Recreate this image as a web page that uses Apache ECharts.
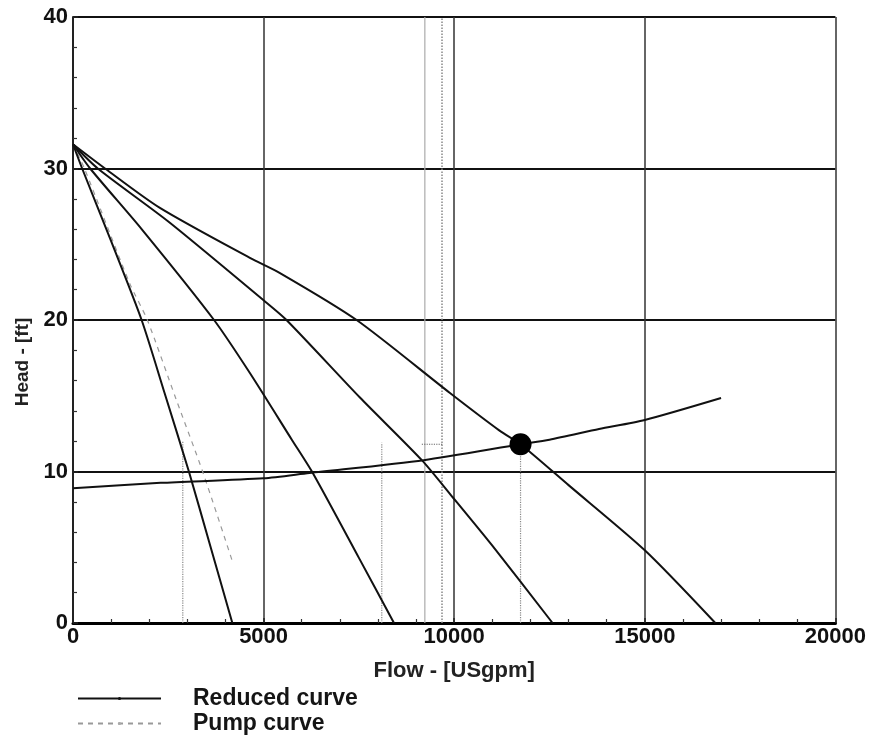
<!DOCTYPE html>
<html>
<head>
<meta charset="UTF-8">
<title>Head / Flow</title>
<style>
  html, body { margin: 0; padding: 0; background: #fff; }
  #chart { width: 869px; height: 745px; }
</style>
</head>
<body>
<div id="chart"></div>
<script src="https://cdn.jsdelivr.net/npm/echarts@6/dist/echarts.min.js"></script>
<script>
// reduced curves (flow in USgpm, head in ft)
var flow1 = [0, 240, 1000, 1800, 2400, 3040, 3600, 4180];
var head1 = [31.6, 30, 25.2, 20, 15.2, 10, 5.1, 0];

var flow2 = [0, 450, 1800, 3700, 4640, 5740, 6290, 7500, 8420];
var head2 = [31.6, 30, 26, 20, 16.5, 12.1, 9.9, 4.3, 0];

var flow3 = [0, 650, 2500, 5000, 5600, 7520, 9150, 9960, 11000, 12580];
var head3 = [31.6, 30, 26.5, 21.3, 20, 14.9, 10.75, 8.3, 5.1, 0];

var flow4 = [0, 840, 2280, 4640, 5430, 7440, 9880, 11190, 11740, 13000, 15000, 16850];
var head4 = [31.6, 30, 27.4, 24.1, 23.1, 20, 15.2, 12.7, 11.8, 9.1, 4.8, 0];

// pump curve (dashed)
var flowPump = [0, 300, 1490, 1950, 2700, 3400, 4190];
var headPump = [31.6, 30, 22.4, 20, 14.8, 10, 4.0];

// system curve
var flowSys = [0, 2300, 5000, 6200, 9200, 11740, 12500, 13800, 15000, 17000];
var headSys = [8.9, 9.25, 9.55, 9.9, 10.75, 11.8, 12.1, 12.8, 13.4, 14.85];

// operating point
var opFlow = [11740];
var opHead = [11.8];

// dotted drop lines
var dropFlow = [2880, 8100, 11740];
var dropHead = [12, 11.9, 11.8];
var dashFlow = [9150, 9700];
var dashHead = [11.8, 11.8];

// scan lines near 10000
var scanFlow = [9230, 9680];
var scanHead = [0, 40];

function pts(xs, ys) {
  return xs.map(function (x, i) { return [x, ys[i]]; });
}

var font = '"Liberation Sans", Arial, sans-serif';
var series = [];

[[flow1, head1], [flow2, head2], [flow3, head3], [flow4, head4]].forEach(function (c) {
  series.push({
    name: 'Reduced curve',
    type: 'line',
    symbol: 'none',
    smooth: 0.25,
    itemStyle: { color: '#111' },
    lineStyle: { color: '#111', width: 2 },
    data: pts(c[0], c[1]),
    z: 4
  });
});

series.push({
  name: 'Pump curve',
  type: 'line',
  symbol: 'none',
  smooth: 0.25,
  itemStyle: { color: '#aaa' },
  lineStyle: { color: '#999', width: 1.2, type: [5, 5] },
  data: pts(flowPump, headPump),
  z: 3
});

series.push({
  name: 'System curve',
  type: 'line',
  symbol: 'none',
  smooth: 0.25,
  itemStyle: { color: '#111' },
  lineStyle: { color: '#111', width: 2 },
  data: pts(flowSys, headSys),
  z: 4
});

// drop lines
dropFlow.forEach(function (f, i) {
  series.push({
    name: 'drop' + i,
    type: 'line',
    symbol: 'none',
    lineStyle: { color: '#888', width: 1.2, type: 'dotted' },
    data: [[f, 0], [f, dropHead[i]]],
    z: 2
  });
});
series.push({
  name: 'drop-h',
  type: 'line',
  symbol: 'none',
  lineStyle: { color: '#666', width: 1.2, type: 'dotted' },
  data: pts(dashFlow, dashHead),
  z: 2
});

// scan lines
scanFlow.forEach(function (f, i) {
  series.push({
    name: 'scan' + i,
    type: 'line',
    symbol: 'none',
    lineStyle: { color: i === 0 ? '#aaa' : '#888', width: i === 0 ? 1.2 : 1.5, type: i === 0 ? 'solid' : 'dotted' },
    data: [[f, scanHead[0]], [f, scanHead[1]]],
    z: 1
  });
});

series.push({
  name: 'Operating point',
  type: 'scatter',
  symbol: 'circle',
  symbolSize: 22,
  itemStyle: { color: '#000', opacity: 1 },
  data: pts(opFlow, opHead),
  z: 6
});

var chart = echarts.init(document.getElementById('chart'));
chart.setOption({
  backgroundColor: '#fff',
  animation: false,
  grid: { left: 73, right: 33, top: 17, bottom: 122, containLabel: false },
  legend: {
    data: ['Reduced curve', 'Pump curve'],
    orient: 'vertical',
    left: 72,
    top: 682,
    itemWidth: 83,
    itemHeight: 4,
    itemGap: 2,
    selectedMode: false,
    textStyle: {
      fontFamily: font, fontWeight: 'bold', fontSize: 23, color: '#151515',
      lineHeight: 23, padding: [0, 0, 0, 27]
    }
  },
  xAxis: {
    type: 'value',
    min: 0,
    max: 20000,
    interval: 5000,
    name: 'Flow - [USgpm]',
    nameLocation: 'middle',
    nameGap: 37,
    nameTextStyle: { fontFamily: font, fontWeight: 'bold', fontSize: 22, color: '#222' },
    axisLine: { show: true, lineStyle: { color: '#000', width: 3 } },
    axisTick: { show: true, inside: true, length: 5, lineStyle: { color: '#222', width: 1.5 } },
    minorTick: { show: true, splitNumber: 5, length: 4, lineStyle: { color: '#333', width: 1.2 } },
    axisLabel: {
      fontFamily: font, fontWeight: 'bold', fontSize: 22, color: '#111', margin: 3,
      formatter: function (v) { return String(v); }
    },
    splitLine: { show: true, lineStyle: { color: '#333', width: 1.5 } }
  },
  yAxis: {
    type: 'value',
    min: 0,
    max: 40,
    interval: 10,
    name: 'Head - [ft]',
    nameLocation: 'middle',
    nameGap: 40,
    nameRotate: 90,
    nameTextStyle: {
      fontFamily: font, fontWeight: 'bold', fontSize: 19, color: '#222',
      padding: [0, 84, 0, 0]
    },
    axisLine: { show: true, lineStyle: { color: '#222', width: 2 } },
    axisTick: { show: true, inside: true, length: 5, lineStyle: { color: '#222', width: 1.5 } },
    minorTick: { show: true, splitNumber: 5, length: 4, lineStyle: { color: '#333', width: 1.2 } },
    axisLabel: { fontFamily: font, fontWeight: 'bold', fontSize: 22, color: '#111', margin: 5 },
    splitLine: { show: true, lineStyle: { color: '#111', width: 2 } }
  },
  series: series
});
</script>
</body>
</html>
